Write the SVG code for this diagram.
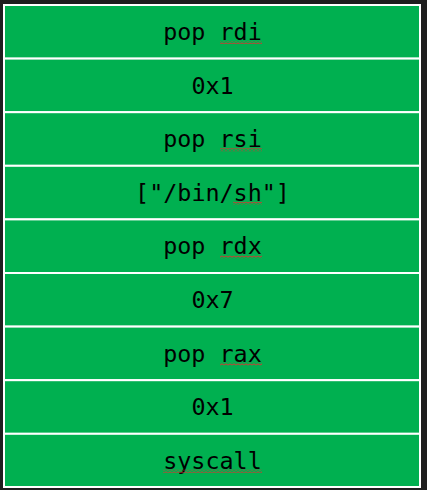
<svg xmlns="http://www.w3.org/2000/svg" width="427" height="490" viewBox="0 0 427 490">
<style>
.cell{fill:#00b050;stroke:#ffffff;stroke-width:2}
.t{font-family:"DejaVu Sans Mono","Liberation Mono",monospace;font-size:23.4px;fill:#000000;text-anchor:middle}
.sq{fill:url(#wave)}
</style>
<defs>
<pattern id="wave" x="0" y="0" width="4" height="3" patternUnits="userSpaceOnUse">
<path d="M0 2.2 L2 0.8 L4 2.2" fill="none" stroke="#e03030" stroke-width="1"/>
</pattern>
</defs>
<rect width="427" height="490" fill="#1e1e1e"/>
<g id="row1"><rect class="cell" x="4" y="5" width="416" height="53.6"/><text class="t" x="212.5" y="40">pop rdi</text><rect class="sq" x="220" y="41" width="42" height="3"/></g>
<g id="row2"><rect class="cell" x="4" y="58.6" width="416" height="53.6"/><text class="t" x="212.5" y="93.6">0x1</text></g>
<g id="row3"><rect class="cell" x="4" y="112.2" width="416" height="53.6"/><text class="t" x="212.5" y="147.2">pop rsi</text><rect class="sq" x="220" y="148.2" width="42" height="3"/></g>
<g id="row4"><rect class="cell" x="4" y="165.8" width="416" height="53.6"/><text class="t" x="212.5" y="200.8">["/bin/sh"]</text><rect class="sq" x="233" y="201.8" width="29" height="3"/></g>
<g id="row5"><rect class="cell" x="4" y="219.4" width="416" height="53.6"/><text class="t" x="212.5" y="254.4">pop rdx</text><rect class="sq" x="220" y="255.4" width="42" height="3"/></g>
<g id="row6"><rect class="cell" x="4" y="273" width="416" height="53.6"/><text class="t" x="212.5" y="308">0x7</text></g>
<g id="row7"><rect class="cell" x="4" y="326.6" width="416" height="53.6"/><text class="t" x="212.5" y="361.6">pop rax</text><rect class="sq" x="220" y="362.6" width="42" height="3"/></g>
<g id="row8"><rect class="cell" x="4" y="380.2" width="416" height="53.6"/><text class="t" x="212.5" y="415.2">0x1</text></g>
<g id="row9"><rect class="cell" x="4" y="433.8" width="416" height="53.2"/><text class="t" x="212.5" y="468.8">syscall</text><rect class="sq" x="163" y="469.8" width="99" height="3"/></g>
</svg>
